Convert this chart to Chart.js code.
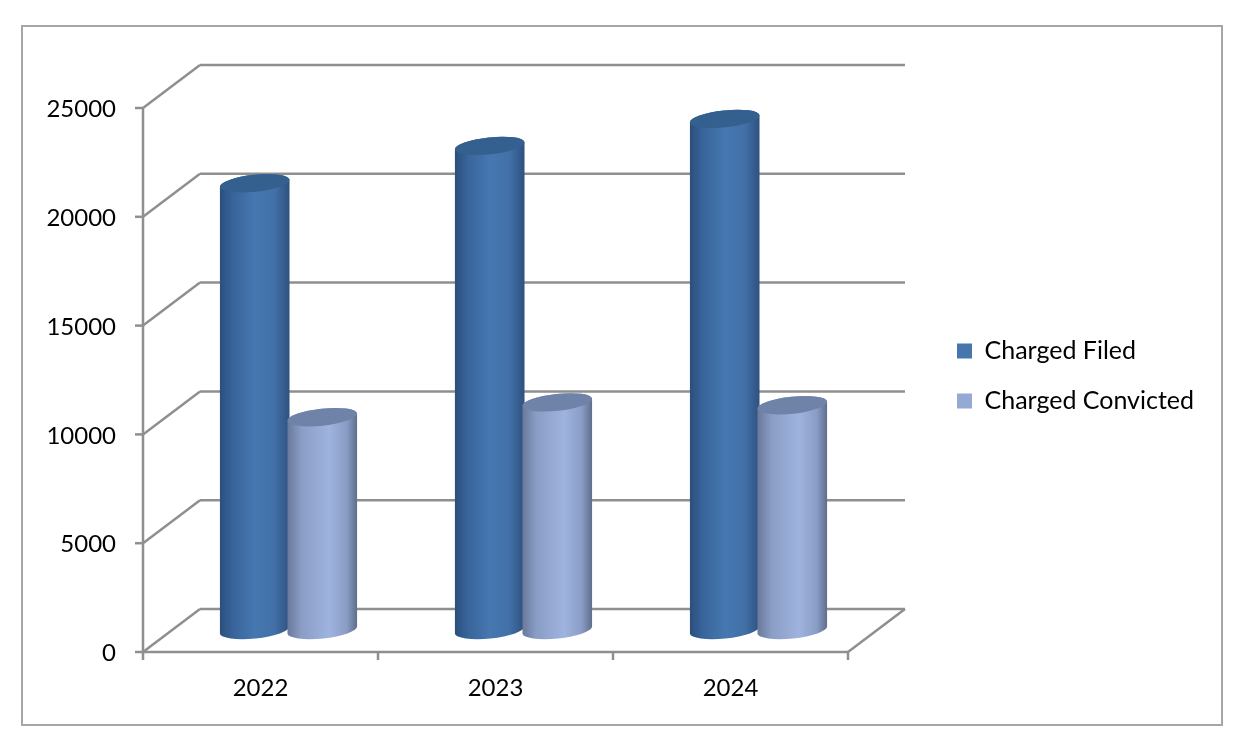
<!DOCTYPE html>
<html>
<head>
<meta charset="utf-8">
<style>
  html, body { margin: 0; padding: 0; background: #fff; }
  #wrap { position: relative; width: 1246px; height: 755px; overflow: hidden; }
  #frame { position: absolute; left: 21px; top: 25px; width: 1198px; height: 697px; border: 2px solid #a6a6a6; }
  #chart { position: absolute; left: 0; top: 0; }
</style>
<script src="https://cdn.jsdelivr.net/npm/chart.js@4"></script>
</head>
<body>
<div id="wrap">
  <div id="frame"></div>
  <canvas id="chart" width="1246" height="755"></canvas>
</div>
<script>
const years = ['2022', '2023', '2024'];
const chargedFiled = [20530, 22250, 23490];
const chargedConvicted = [9780, 10460, 10330];

// profundidade do "3D" em pixels
const depthX = 57;
const depthY = 43;
const lineColor = '#8f8f8f';
const tilt = -6 * Math.PI / 180;

function line(ctx, x1, y1, x2, y2) {
    ctx.beginPath();
    ctx.moveTo(x1, y1);
    ctx.lineTo(x2, y2);
    ctx.stroke();
}

function drawWalls(chart) {
    const { ctx, scales: { x, y } } = chart;
    ctx.save();
    ctx.strokeStyle = lineColor;
    ctx.lineWidth = 2.5;
    y.ticks.forEach(t => {
        const py = y.getPixelForValue(t.value);
        line(ctx, x.left, py, x.left + depthX, py - depthY);
        line(ctx, x.left + depthX, py - depthY, x.right + depthX, py - depthY);
        line(ctx, x.left - 8, py, x.left, py);
    });
    line(ctx, x.left, y.top, x.left, y.bottom + 8);
    line(ctx, x.left, y.bottom, x.right, y.bottom);
    line(ctx, x.right, y.bottom, x.right + depthX, y.bottom - depthY);
    const step = (x.right - x.left) / years.length;
    for (let i = 1; i <= years.length; i++) {
        line(ctx, x.left + step * i, y.bottom, x.left + step * i, y.bottom + 8);
    }
    ctx.restore();
}

function drawCylinder(ctx, bar, stops, capColor) {
    const cx = bar.x + 28;
    const top = bar.y - 22;
    const base = bar.base - 22;
    const half = bar.width / 2;
    const rx = half / Math.cos(tilt);
    const ry = 8.5;

    const grad = ctx.createLinearGradient(cx - half, 0, cx + half, 0);
    stops.forEach(s => grad.addColorStop(s[0], s[1]));

    ctx.beginPath();
    ctx.ellipse(cx, base, rx, ry, tilt, 0, Math.PI);
    ctx.ellipse(cx, top, rx, ry, tilt, Math.PI, Math.PI * 2);
    ctx.closePath();
    ctx.fillStyle = grad;
    ctx.fill();

    ctx.beginPath();
    ctx.ellipse(cx, top, rx, ry, tilt, 0, Math.PI * 2);
    ctx.fillStyle = capColor;
    ctx.fill();
}

const blueStops = [[0, '#2b4f7c'], [0.18, '#38649a'], [0.5, '#4677b0'], [0.78, '#4271a8'], [1, '#2e5180']];
const lightStops = [[0, '#69799b'], [0.2, '#8a9dc5'], [0.6, '#9eb3de'], [0.85, '#8a9dc6'], [1, '#5f6e8c']];

const cylinders = {
    id: 'cylinders',
    afterLayout(chart) {
        // legenda fora da area do grafico
        const lg = chart.legend;
        lg.left = 932;
        lg.right = 1220;
        lg.top = 300;
        lg.bottom = 452;
    },
    beforeDatasetsDraw(chart) {
        const ctx = chart.ctx;
        drawWalls(chart);
        ctx.save();
        years.forEach((_, i) => {
            drawCylinder(ctx, chart.getDatasetMeta(0).data[i], blueStops, '#34608f');
            drawCylinder(ctx, chart.getDatasetMeta(1).data[i], lightStops, '#6f83a8');
        });
        ctx.restore();
        return false;
    }
};

const tickFont = { family: 'Lato', size: 24 };
const legendFont = { family: 'Lato', size: 25 };

const canvasCtx = document.getElementById('chart').getContext('2d');
canvasCtx.letterSpacing = '0.5px';

new Chart(canvasCtx, {
    type: 'bar',
    plugins: [cylinders],
    data: {
        labels: years,
        datasets: [
            { label: 'Charged Filed', data: chargedFiled, backgroundColor: '#4676ac', borderWidth: 0 },
            { label: 'Charged Convicted', data: chargedConvicted, backgroundColor: '#94a9d3', borderWidth: 0 }
        ]
    },
    options: {
        responsive: false,
        animation: false,
        layout: { padding: { top: 108, right: 398, left: 0, bottom: 0 } },
        datasets: { bar: { categoryPercentage: 0.575, barPercentage: 1.03 } },
        scales: {
            x: {
                grid: { display: false },
                border: { display: false },
                ticks: { color: '#000', font: tickFont, padding: 14, maxRotation: 0 },
                afterFit(s) { s.height = 103; }
            },
            y: {
                min: 0,
                max: 25000,
                grid: { display: false },
                border: { display: false },
                ticks: { color: '#000', font: tickFont, padding: 19, labelOffset: 1.5, stepSize: 5000, callback: v => String(v) },
                afterFit(s) { s.width = 143; }
            }
        },
        plugins: {
            tooltip: { enabled: false },
            legend: {
                position: 'chartArea',
                align: 'center',
                labels: { color: '#000', font: legendFont, boxWidth: 15, boxHeight: 15, padding: 25 }
            }
        }
    }
});
</script>
</body>
</html>
